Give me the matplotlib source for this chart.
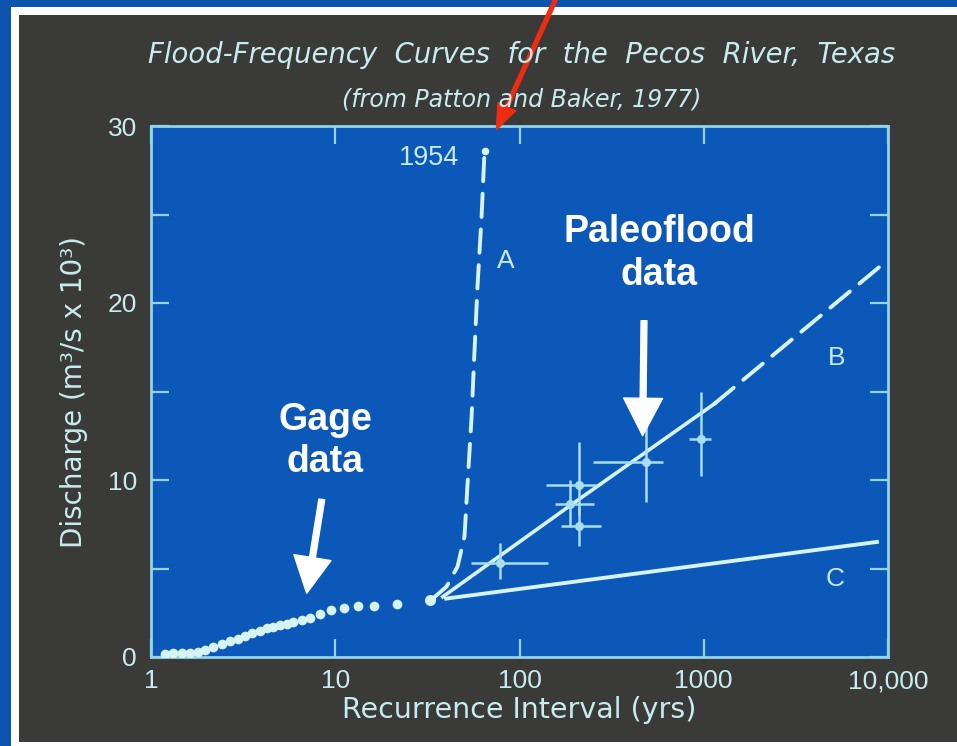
import numpy as np
import matplotlib
matplotlib.use("Agg")
import matplotlib.pyplot as plt
from matplotlib.patches import Rectangle
from matplotlib.ticker import FixedLocator, NullLocator

plt.rcParams['font.family'] = ['Liberation Sans', 'DejaVu Sans']

# gage data (recurrence interval yrs, discharge m3/s x 10^3)
gage_x = [1.19, 1.32, 1.47, 1.63, 1.80, 1.96, 2.18, 2.42, 2.68, 2.97, 3.23, 3.52,
          3.90, 4.24, 4.60, 5.00, 5.44, 5.91, 6.56, 7.28, 8.24, 9.54, 11.1, 13.3,
          16.2, 21.6]
gage_y = [0.17, 0.21, 0.21, 0.25, 0.30, 0.40, 0.59, 0.74, 0.91, 1.00, 1.19, 1.34,
          1.49, 1.63, 1.72, 1.82, 1.88, 1.95, 2.10, 2.23, 2.42, 2.63, 2.77, 2.90,
          2.90, 3.01]
junction_x = [32.5]
junction_y = [3.21]

# curve A (dashed, up to the 1954 flood)
a_x = [33.3, 40.2, 46.1, 50.3, 52.2, 54.9, 57.0, 59.2, 62.2, 64.6]
a_y = [3.24, 3.98, 5.11, 6.82, 9.72, 13.5, 17.3, 21.0, 24.8, 28.6]
flood_1954_x = [64.6]
flood_1954_y = [28.6]

# curve B (solid part then dashed extension)
b_x = [38.3, 200, 1140, 9900]
b_y = [3.4, 8.75, 14.3, 22.4]

# curve C
c_x = [40, 8700]
c_y = [3.3, 6.5]

# paleoflood data with ranges
pf_x = [77.9, 211, 187, 211, 486, 966]
pf_y = [5.32, 9.72, 8.64, 7.40, 11.0, 12.33]
pf_xlo = [54.7, 140, 155, 168, 250, 834]
pf_xhi = [142, 261, 255, 277, 598, 1093]
pf_ylo = [4.38, 8.0, 7.34, 6.27, 8.73, 10.2]
pf_yhi = [6.46, 12.14, 10.0, 8.5, 13.09, 14.98]

x_ticks = [1, 10, 100, 1000, 10000]
x_labels = ['1', '10', '100', '1000', '10,000']
y_ticks = [0, 5, 10, 15, 20, 25, 30]
y_labels = ['0', '', '10', '', '20', '', '30']

blue_edge = '#0b53ad'
dark = '#3a3a38'
plot_bg = '#0b58b8'
ink = '#d6f4f4'
spine_c = '#92d4ea'
txt_c = '#c8ecee'
wide = ['DejaVu Sans']

fig = plt.figure(figsize=(9.57, 7.46), dpi=100)
fig.patch.set_facecolor(blue_edge)
fig.patches.append(Rectangle((11 / 957, 0), 1, 739 / 746, transform=fig.transFigure,
                             facecolor='white', edgecolor='none', zorder=-2))
fig.patches.append(Rectangle((19 / 957, 4 / 746), 1, 727 / 746, transform=fig.transFigure,
                             facecolor=dark, edgecolor='none', zorder=-1))

ax = fig.add_axes([151 / 957, 89 / 746, 737 / 957, 531 / 746])
ax.set_facecolor(plot_bg)
ax.set_xscale('log')
ax.set_xlim(1, 10000)
ax.set_ylim(0, 30)

for s in ax.spines.values():
    s.set_color(spine_c)
    s.set_linewidth(2)

ax.xaxis.set_major_locator(FixedLocator(x_ticks))
ax.xaxis.set_minor_locator(NullLocator())
ax.set_xticklabels(x_labels)
ax.set_yticks(y_ticks)
ax.set_yticklabels(y_labels)
ax.tick_params(axis='both', which='major', direction='in', length=13, width=1.6,
               color=spine_c, labelcolor=txt_c, labelsize=19,
               top=True, right=True)
ax.tick_params(axis='x', pad=9)
ax.tick_params(axis='y', pad=10)

ax.set_xlabel('Recurrence Interval (yrs)', color=txt_c, fontsize=20.5,
              family=wide, labelpad=2)
ax.set_ylabel('Discharge (m\u00b3/s x 10\u00b3)', color=txt_c, fontsize=20,
              family=wide, labelpad=14)

# gage dots
ax.plot(gage_x, gage_y, 'o', color=ink, markersize=7, markeredgewidth=0, zorder=4)
ax.plot(junction_x, junction_y, 'o', color=ink, markersize=8, markeredgewidth=0, zorder=4)

# curve A
ax.plot(a_x, a_y, color=ink, lw=2.8, linestyle=(0, (6, 3.2)),
        dash_capstyle='round', zorder=3)
ax.plot(flood_1954_x, flood_1954_y, 'o', color=ink, markersize=5.5, markeredgewidth=0,
        zorder=4)

# curve B
ax.plot(b_x[:3], b_y[:3], color=ink, lw=2.6, zorder=3)
ax.plot(b_x[2:], b_y[2:], color=ink, lw=2.8, linestyle=(0, (6.5, 3.2)),
        dash_capstyle='round', zorder=3)

# curve C
ax.plot(c_x, c_y, color=ink, lw=2.8, zorder=3)

# paleoflood crosses
pf_x = np.array(pf_x)
pf_y = np.array(pf_y)
ax.errorbar(pf_x, pf_y,
            xerr=[pf_x - np.array(pf_xlo), np.array(pf_xhi) - pf_x],
            yerr=[pf_y - np.array(pf_ylo), np.array(pf_yhi) - pf_y],
            fmt='o', color='#a8def0', ecolor='#a8def0', elinewidth=1.8,
            markersize=5.5, capsize=0, zorder=3)

# curve labels
ax.text(47, 28.2, '1954', color=txt_c, fontsize=19.5, ha='right', va='center')
ax.text(84, 22.4, 'A', color=txt_c, fontsize=19, ha='center', va='center')
ax.text(5290, 16.9, 'B', color=txt_c, fontsize=19, ha='center', va='center')
ax.text(5160, 4.4, 'C', color=txt_c, fontsize=19, ha='center', va='center')

# white annotations
ax.text(8.8, 12.2, 'Gage\ndata', color='white', fontsize=27, fontweight='bold',
        ha='center', va='center', linespacing=1.22)
ax.text(575, 22.8, 'Paleoflood\ndata', color='white', fontsize=27, fontweight='bold',
        ha='center', va='center', linespacing=1.22)
ax.annotate('', xy=(7.0, 3.6), xytext=(8.45, 8.9),
            arrowprops=dict(width=4.2, headwidth=27, headlength=26, color='white',
                            shrink=0))
ax.annotate('', xy=(466, 12.5), xytext=(474, 19.0),
            arrowprops=dict(width=4.2, headwidth=28, headlength=27, color='white',
                            shrink=0))
ax.annotate('', xy=(75, 29.8), xytext=(558, 752), textcoords='figure pixels',
            arrowprops=dict(width=2.8, headwidth=14, headlength=18, color='#ee2c12',
                            shrink=0), annotation_clip=False)

fig.text(522 / 957, 1 - 55 / 746, 'Flood-Frequency  Curves  for  the  Pecos  River,  Texas',
         color=txt_c, fontsize=19.8, style='italic', family=wide,
         ha='center', va='center')
fig.text(522 / 957, 1 - 100 / 746, '(from Patton and Baker, 1977)',
         color=txt_c, fontsize=17, style='italic', family=wide,
         ha='center', va='center')

fig.savefig('out.png', dpi=100, facecolor=fig.get_facecolor())
